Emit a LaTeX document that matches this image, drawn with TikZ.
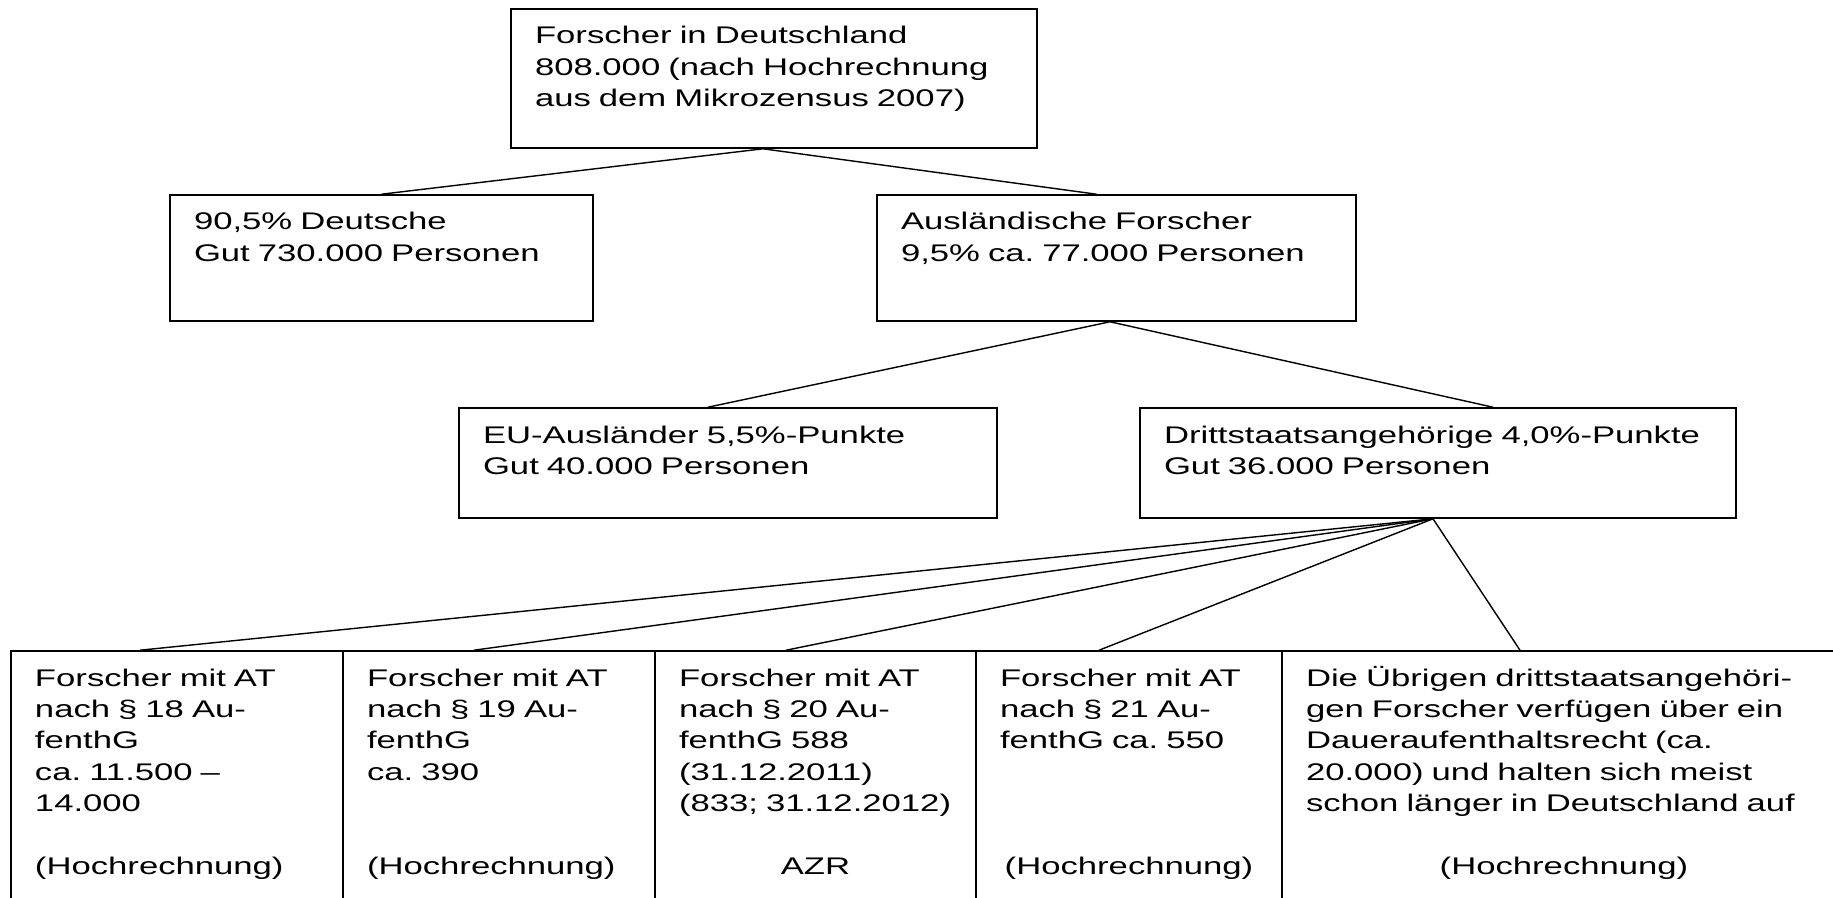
\documentclass[tikz,border=0pt]{standalone}
\usepackage{fontspec}
\setmainfont{Liberation Sans}[FakeStretch=1.44]
\usepackage{tikz}
\frenchspacing

\begin{document}
\begin{tikzpicture}[node distance=2.5cm,
  box/.style={rectangle, draw, line width=0.9pt, inner xsep=0.48cm, inner ysep=0pt, align=left, text height=0.7cm, font=\fontsize{13.7}{17.9}\selectfont}]
\path[use as bounding box, clip] (0,0) rectangle (36.66,-17.96);

\node (total) [box, text width=9.56cm, text depth=2.08cm] at (15.48,-1.57) {Forscher in Deutschland\\ 808.000 (nach Hochrechnung\\ aus dem Mikrozensus 2007)};
\node (deutsche) [box, text width=7.5cm, text depth=1.82cm, below of=total, xshift=-7.85cm, yshift=-1.09cm] {90,5\% Deutsche\\ Gut 730.000 Personen};
\node (auslaender) [box, text width=8.62cm, text depth=1.82cm, right of=deutsche, xshift=12.2cm] {Ausländische Forscher\\ 9,5\% ca. 77.000 Personen};
\node (eu) [box, text width=9.8cm, text depth=1.5cm, below of=deutsche, xshift=6.93cm, yshift=-1.6cm] {EU-Ausländer 5,5\%-Punkte\\ Gut 40.000 Personen};
\node (dritt) [box, text width=10.96cm, text depth=1.5cm, right of=eu, xshift=11.7cm] {Drittstaatsangehörige 4,0\%-Punkte\\ Gut 36.000 Personen};
\node (par18) [box, text width=5.68cm, text depth=4.7cm, below of=eu, xshift=-11.02cm, yshift=-3.96cm] {Forscher mit AT\\ nach § 18 Au-\\ fenthG\\ ca. 11.500 --\\ 14.000\\[\baselineskip] (Hochrechnung)};
\node (par19) [box, text width=5.28cm, text depth=4.7cm, right of=par18, xshift=3.94cm] {Forscher mit AT\\ nach § 19 Au-\\ fenthG\\ ca. 390\\[2\baselineskip] (Hochrechnung)};
\node (par20) [box, text width=5.46cm, text depth=4.7cm, right of=par19, xshift=3.83cm] {Forscher mit AT\\ nach § 20 Au-\\ fenthG 588\\ (31.12.2011)\\ (833; 31.12.2012)\\[\baselineskip] \makebox[\linewidth]{AZR}};
\node (par21) [box, text width=5.16cm, text depth=4.7cm, right of=par20, xshift=3.77cm] {Forscher mit AT\\ nach § 21 Au-\\ fenthG ca. 550\\[3\baselineskip] \makebox[\linewidth]{(Hochrechnung)}};
\node (dauer) [box, text width=10.32cm, text depth=4.7cm, right of=par21, xshift=6.2cm] {Die Übrigen drittstaatsangehöri-\\ gen Forscher verfügen über ein\\ Daueraufenthaltsrecht (ca.\\ 20.000) und halten sich meist\\ schon länger in Deutschland auf\\[\baselineskip] \makebox[\linewidth]{(Hochrechnung)}};

\draw[thick] ([xshift=-0.22cm]total.south) -- (deutsche.north);
\draw[thick] ([xshift=-0.22cm]total.south) -- ([xshift=-0.4cm]auslaender.north);
\draw[thick] ([xshift=-0.13cm]auslaender.south) -- ([xshift=-0.4cm]eu.north);
\draw[thick] ([xshift=-0.13cm]auslaender.south) -- ([xshift=1.1cm]dritt.north);
\draw[thick] ([xshift=-0.1cm]dritt.south) -- ([xshift=-0.74cm]par18.north);
\draw[thick] ([xshift=-0.1cm]dritt.south) -- ([xshift=-0.5cm]par19.north);
\draw[thick] ([xshift=-0.1cm]dritt.south) -- ([xshift=-0.59cm]par20.north);
\draw[thick] ([xshift=-0.1cm]dritt.south) -- ([xshift=-0.6cm]par21.north);
\draw[thick] ([xshift=-0.1cm]dritt.south) -- ([xshift=-0.88cm]dauer.north);
\end{tikzpicture}
\end{document}
